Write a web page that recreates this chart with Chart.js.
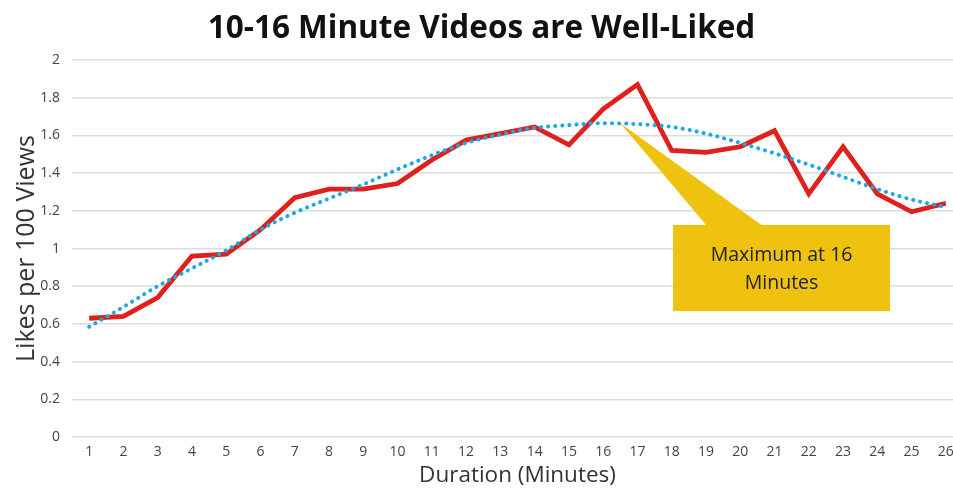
<!DOCTYPE html>
<html>
<head>
<meta charset="utf-8">
<title>10-16 Minute Videos are Well-Liked</title>
<script src="https://cdn.jsdelivr.net/npm/chart.js@4.4.1/dist/chart.umd.min.js"></script>
<style>
	html, body {
		margin: 0;
		padding: 0;
		background: #ffffff;
		overflow: hidden;
	}
	#wrap {
		width: 963px;
		height: 489px;
	}
</style>
</head>
<body>
<div id="wrap"><canvas id="likesChart" width="963" height="489"></canvas></div>
<script>
const durations = ["1", "2", "3", "4", "5", "6", "7", "8", "9", "10", "11", "12", "13",
	"14", "15", "16", "17", "18", "19", "20", "21", "22", "23", "24", "25", "26"];

const likesPer100 = [0.63, 0.64, 0.74, 0.96, 0.97, 1.10, 1.27, 1.315, 1.315, 1.345, 1.47, 1.575, 1.61,
	1.645, 1.55, 1.74, 1.87, 1.52, 1.51, 1.54, 1.625, 1.29, 1.54, 1.29, 1.195, 1.24];

const trendLine = [0.585, 0.69, 0.80, 0.895, 0.99, 1.10, 1.19, 1.265, 1.34, 1.42, 1.495, 1.56, 1.605,
	1.64, 1.655, 1.665, 1.66, 1.645, 1.61, 1.56, 1.505, 1.445, 1.38, 1.315, 1.26, 1.22];

const yTicks = [0, 0.2, 0.4, 0.6, 0.8, 1, 1.2, 1.4, 1.6, 1.8, 2];

const calloutLines = ["Maximum at 16", "Minutes"];

// callout placed in axis units (category index / likes)
const callout = {
	tipX: 15.5, tipY: 1.665,
	baseLeft: 18.03, baseRight: 19.66,
	boxLeft: 17.04, boxRight: 23.37,
	boxTop: 1.125, boxBottom: 0.668
};

const calloutPlugin = {
	id: "calloutBox",
	afterDatasetsDraw: function (chart) {
		const ctx = chart.ctx;
		const x = chart.scales.x;
		const y = chart.scales.y;

		const left = x.getPixelForValue(callout.boxLeft);
		const right = x.getPixelForValue(callout.boxRight);
		const top = y.getPixelForValue(callout.boxTop);
		const bottom = y.getPixelForValue(callout.boxBottom);

		ctx.save();
		ctx.fillStyle = "#efc20f";
		ctx.beginPath();
		ctx.moveTo(x.getPixelForValue(callout.tipX), y.getPixelForValue(callout.tipY));
		ctx.lineTo(x.getPixelForValue(callout.baseRight), top + 1);
		ctx.lineTo(x.getPixelForValue(callout.baseLeft), top + 1);
		ctx.closePath();
		ctx.fill();
		ctx.fillRect(left, top, right - left, bottom - top);

		ctx.fillStyle = "#222222";
		ctx.font = "19.5px 'Open Sans', sans-serif";
		ctx.textAlign = "center";
		ctx.textBaseline = "middle";
		const cx = (left + right) / 2;
		const cy = (top + bottom) / 2;
		ctx.fillText(calloutLines[0], cx, cy - 13);
		ctx.fillText(calloutLines[1], cx, cy + 15);
		ctx.restore();
	}
};

const canvas = document.getElementById("likesChart");

new Chart(canvas, {
	type: "line",
	data: {
		labels: durations,
		datasets: [
			{
				label: "Likes per 100 Views",
				data: likesPer100,
				borderColor: "#e0201c",
				borderWidth: 4.8,
				borderJoinStyle: "miter",
				pointRadius: 0,
				tension: 0,
				fill: false,
				order: 1
			},
			{
				label: "Trend",
				data: trendLine,
				borderColor: "#1ba9e3",
				borderWidth: 4,
				borderDash: [0.1, 7],
				borderCapStyle: "round",
				pointRadius: 0,
				cubicInterpolationMode: "monotone",
				fill: false,
				order: 0
			}
		]
	},
	options: {
		responsive: false,
		animation: false,
		layout: {
			padding: 0
		},
		plugins: {
			legend: { display: false },
			tooltip: { enabled: false },
			title: {
				display: true,
				text: "10-16 Minute Videos are Well-Liked",
				color: "#111111",
				font: { family: "'Open Sans', sans-serif", size: 31.5, weight: "bold", lineHeight: 1.1 },
				padding: { top: 12, bottom: 13.4 }
			}
		},
		scales: {
			x: {
				offset: true,
				afterFit: function (scale) {
					scale.height = 52;
				},
				grid: { display: false, drawTicks: false },
				border: { display: false },
				ticks: {
					color: "#444444",
					font: { family: "'Open Sans', sans-serif", size: 14, lineHeight: 1 },
					padding: 8,
					maxRotation: 0,
					autoSkip: false
				},
				title: {
					display: true,
					text: "Duration (Minutes)",
					color: "#333333",
					font: { family: "'Open Sans', sans-serif", size: 22.5, lineHeight: 1.2 },
					padding: { top: 0, bottom: 0 }
				}
			},
			y: {
				min: 0,
				max: 2,
				afterFit: function (scale) {
					scale.width = 72;
				},
				afterBuildTicks: function (scale) {
					scale.ticks = yTicks.map(function (v) {
						return { value: v };
					});
				},
				grid: { color: "#dcdcdc", lineWidth: 1.5, drawTicks: false },
				border: { display: false },
				ticks: {
					color: "#444444",
					font: { family: "'Open Sans', sans-serif", size: 14 },
					padding: 12,
					callback: function (value) {
						return String(value);
					}
				},
				title: {
					display: true,
					text: "Likes per 100 Views",
					color: "#333333",
					font: { family: "'Open Sans', sans-serif", size: 25, lineHeight: 1.2 },
					padding: { top: 12, bottom: 0 }
				}
			}
		}
	},
	plugins: [calloutPlugin]
});
</script>
</body>
</html>
